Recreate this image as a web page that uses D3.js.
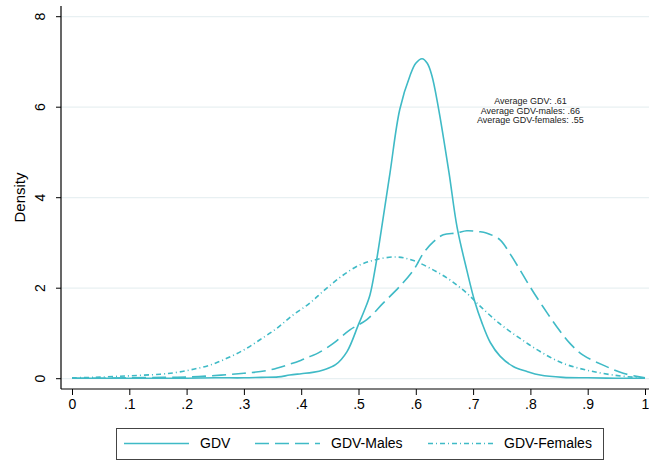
<!DOCTYPE html>
<html>
<head>
<meta charset="utf-8">
<script src="https://cdn.jsdelivr.net/npm/d3@7"></script>
<style>
  body { margin: 0; background: #fff; }
  svg { display: block; font-family: "Liberation Sans", Arial, sans-serif; }
</style>
</head>
<body>
<svg id="chart" width="649" height="460"></svg>
<script>
// kernel density estimates
const gdv_x = [0, .05, .1, .15, .2, .25, .3, .33, .36, .38, .40, .42, .44, .46, .48, .50, .51, .52, .53, .54, .555, .572, .59, .60, .611, .62, .628, .639, .658, .672, .689, .703, .715, .73, .747, .77, .794, .817, .857, .9, .95, 1];
const gdv_y = [.01, .01, .01, .01, .01, .02, .02, .03, .04, .08, .11, .14, .2, .31, .6, 1.2, 1.5, 1.85, 2.5, 3.3, 4.55, 5.95, 6.7, 6.97, 7.07, 6.97, 6.7, 6.02, 4.55, 3.35, 2.4, 1.7, 1.25, .8, .5, .27, .16, .08, .03, .02, .01, .01];

const males_x = [0, .05, .1, .16, .21, .26, .3, .34, .375, .40, .415, .43, .456, .485, .514, .543, .572, .596, .613, .631, .648, .671, .689, .71, .723, .747, .764, .782, .799, .822, .846, .869, .892, .927, .962, 1];
const males_y = [.01, .01, .02, .03, .04, .08, .12, .18, .3, .41, .49, .57, .78, 1.08, 1.3, 1.67, 2.04, 2.4, 2.77, 3.03, 3.18, 3.22, 3.27, 3.25, 3.22, 3.07, 2.77, 2.4, 2.04, 1.59, 1.15, .78, .52, .3, .12, .02];

const females_x = [0, .037, .095, .154, .183, .212, .241, .27, .299, .328, .357, .386, .415, .44, .47, .5, .53, .567, .596, .631, .66, .689, .715, .747, .782, .817, .857, .898, .945, 1];
const females_y = [.02, .03, .06, .10, .14, .21, .30, .45, .63, .86, 1.11, 1.41, 1.67, 1.95, 2.26, 2.5, 2.63, 2.69, 2.61, 2.4, 2.18, 1.89, 1.57, 1.21, .89, .6, .34, .19, .08, .01];

const x_ticks = [0, .1, .2, .3, .4, .5, .6, .7, .8, .9, 1];
const x_tick_labels = ["0", ".1", ".2", ".3", ".4", ".5", ".6", ".7", ".8", ".9", "1"];
const y_ticks = [0, 2, 4, 6, 8];

const series_names = ["GDV", "GDV-Males", "GDV-Females"];
const note_lines = ["Average GDV: .61", "Average GDV-males: .66", "Average GDV-females: .55"];

const teal = "#3fbac6";
const dashes = ["none", "14,6", "5,3,1,3"];

const svg = d3.select("#chart");

const x = d3.scaleLinear().domain([0, 1]).range([72, 645]);
const y = d3.scaleLinear().domain([0, 8]).range([378.7, 16.7]);

const plot_left = 61, plot_right = 649, plot_top = 6, plot_bottom = 389;

// gridlines
svg.append("g")
    .selectAll("line")
    .data(y_ticks)
    .enter()
    .append("line")
    .attr("x1", plot_left)
    .attr("x2", plot_right)
    .attr("y1", d => y(d))
    .attr("y2", d => y(d))
    .attr("stroke", "#e8f0f2")
    .attr("stroke-width", 1.2);

// y axis, labels turned like Stata's vertical ticks
const y_axis = svg.append("g")
    .attr("transform", `translate(${plot_left},0)`)
    .call(d3.axisLeft(y).tickValues(y_ticks).tickSize(5).tickFormat(d3.format("d")));
y_axis.attr("font-family", null);
y_axis.select(".domain").remove();
y_axis.selectAll(".tick").attr("transform", null);
y_axis.selectAll(".tick line")
    .attr("stroke", "#000")
    .attr("y1", d => y(d))
    .attr("y2", d => y(d));
y_axis.selectAll(".tick text")
    .attr("font-size", 14)
    .attr("fill", "#000")
    .attr("x", 0)
    .attr("y", 0)
    .attr("dy", "0.35em")
    .attr("text-anchor", "middle")
    .attr("transform", d => `translate(-21,${y(d)}) rotate(-90)`);

// x axis
const x_axis = svg.append("g")
    .attr("transform", `translate(0,${plot_bottom})`)
    .call(d3.axisBottom(x).tickValues(x_ticks).tickSize(6)
        .tickFormat((d, i) => x_tick_labels[i]));
x_axis.attr("font-family", null);
x_axis.select(".domain").remove();
x_axis.selectAll("line").attr("stroke", "#000");
x_axis.selectAll("text")
    .attr("font-size", 14)
    .attr("fill", "#000")
    .attr("y", 10)
    .attr("dy", "0.71em");

svg.append("line")
    .attr("x1", plot_left).attr("x2", plot_left)
    .attr("y1", plot_top).attr("y2", plot_bottom)
    .attr("stroke", "#000").attr("stroke-width", 1.2);
svg.append("line")
    .attr("x1", plot_left).attr("x2", plot_right)
    .attr("y1", plot_bottom).attr("y2", plot_bottom)
    .attr("stroke", "#000").attr("stroke-width", 1.2);

// axis title
svg.append("text")
    .attr("transform", `translate(20,${(plot_top + plot_bottom) / 2}) rotate(-90)`)
    .attr("text-anchor", "middle")
    .attr("dy", "0.35em")
    .attr("font-size", 15)
    .text("Density");

// density curves
const line = d3.line()
    .x(d => x(d[0]))
    .y(d => y(d[1]))
    .curve(d3.curveCatmullRom.alpha(0.5));

const all_series = [
    d3.zip(gdv_x, gdv_y),
    d3.zip(males_x, males_y),
    d3.zip(females_x, females_y)
];

svg.append("g")
    .selectAll("path")
    .data(all_series)
    .enter()
    .append("path")
    .attr("d", line)
    .attr("fill", "none")
    .attr("stroke", teal)
    .attr("stroke-width", 1.6)
    .attr("stroke-dasharray", (d, i) => dashes[i]);

// note text
svg.append("g")
    .selectAll("text")
    .data(note_lines)
    .enter()
    .append("text")
    .attr("x", x(0.8))
    .attr("y", (d, i) => y(6) - 3 + i * 9.5)
    .attr("text-anchor", "middle")
    .attr("font-size", 9)
    .attr("fill", "#222")
    .text(d => d);

// legend
const legend = svg.append("g");
legend.append("rect")
    .attr("x", 116.5).attr("y", 428.5)
    .attr("width", 487).attr("height", 31)
    .attr("fill", "#fff")
    .attr("stroke", "#444")
    .attr("stroke-width", 1);

const legend_x = [124, 255, 428];
const items = legend.selectAll("g.item")
    .data(series_names)
    .enter()
    .append("g")
    .attr("transform", (d, i) => `translate(${legend_x[i]},443.5)`);
items.append("line")
    .attr("x1", 0).attr("x2", 65)
    .attr("stroke", teal)
    .attr("stroke-width", 1.6)
    .attr("stroke-dasharray", (d, i) => dashes[i]);
items.append("text")
    .attr("x", 76)
    .attr("dy", "0.35em")
    .attr("font-size", 14)
    .text(d => d);
</script>
</body>
</html>
